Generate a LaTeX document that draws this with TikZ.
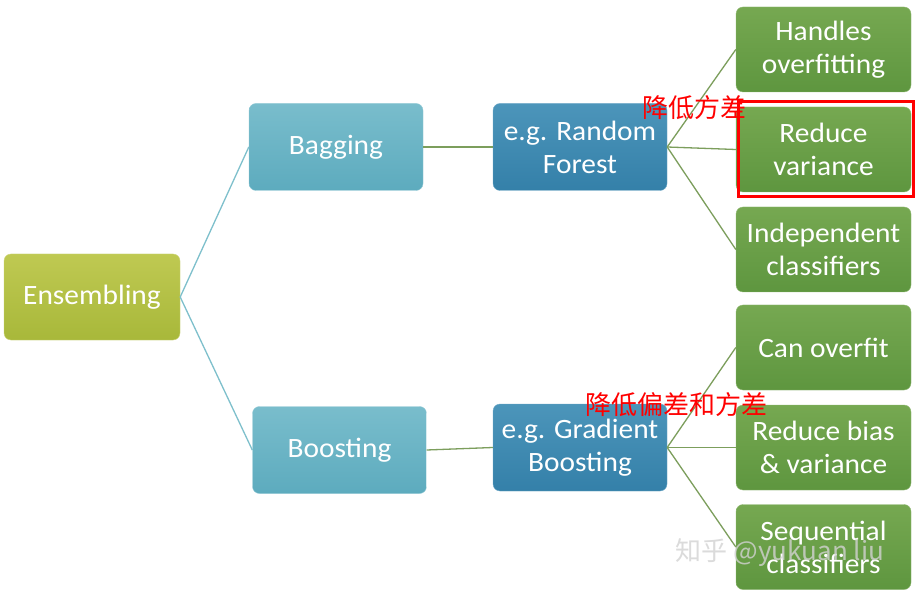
\documentclass[tikz,border=0pt]{standalone}
\usepackage{fontspec}
\setmainfont{Carlito}[FakeStretch=1.05]
\newfontfamily\cjk{Noto Sans CJK SC}
\definecolor{ensT}{HTML}{BFC952}
\definecolor{ensB}{HTML}{A8B83A}
\definecolor{bagT}{HTML}{79BDCC}
\definecolor{bagB}{HTML}{5DABBE}
\definecolor{rfT}{HTML}{4C95BA}
\definecolor{rfB}{HTML}{3480A9}
\definecolor{grT}{HTML}{76A851}
\definecolor{grB}{HTML}{5E963F}
\definecolor{lnBlue}{HTML}{7EC0CC}
\definecolor{lnGreen}{HTML}{7C9E5C}
\begin{document}
\begin{tikzpicture}[x=1pt,y=1pt,
  boxbase/.style={rectangle,rounded corners=7pt,inner sep=0pt,align=center,
    text=white,font=\fontsize{28}{33}\selectfont},
  ensbox/.style={boxbase,top color=ensT,bottom color=ensB,draw=ensT!80!white,
    minimum width=176pt,minimum height=86pt},
  bagbox/.style={boxbase,top color=bagT,bottom color=bagB,draw=bagT!80!white,
    minimum width=174pt,minimum height=87pt},
  rfbox/.style={boxbase,top color=rfT,bottom color=rfB,draw=rfT!80!white,
    minimum width=174pt,minimum height=87pt},
  grbox/.style={boxbase,top color=grT,bottom color=grB,draw=grT!80!white,
    minimum width=175pt,minimum height=85pt},
  blueline/.style={draw=lnBlue,line width=1.3pt},
  greenline/.style={draw=lnGreen,line width=1.3pt},
  redlabel/.style={text=red,font=\cjk\fontsize{26}{30}\selectfont,inner sep=0pt}
]
\useasboundingbox (0,0) rectangle (915,595);
\fill[white] (0,0) rectangle (915,595);

\node[ensbox] (ens) at (92,298) {Ensembling};
\node[bagbox] (bag) at (336,448) {Bagging};
\node[bagbox] (boo) at (339.5,145) {Boosting};
\node[rfbox] (rf) at (580,448) {e.g. Random\\Forest};
\node[rfbox] (gb) at (580,147.5) {e.g. Gradient\\Boosting};

\node[grbox] (g1) at (823.5,545.5) {Handles\\overfitting};
\node[grbox] (g2) at (823.5,445.5) {Reduce\\variance};
\node[grbox] (g3) at (823.5,345.5) {Independent\\classifiers};
\node[grbox] (g4) at (823.5,247.5) {Can overfit};
\node[grbox] (g5) at (823.5,147.5) {Reduce bias\\\& variance};
\node[grbox] (g6) at (823.5,48) {Sequential\\classifiers};

\draw[blueline] (ens.east) -- (bag.west);
\draw[blueline] (ens.east) -- (boo.west);
\draw[greenline] (bag.east) -- (rf.west);
\draw[greenline] (boo.east) -- (gb.west);
\foreach \g in {g1,g2,g3} \draw[greenline] (rf.east) -- (\g.west);
\foreach \g in {g4,g5,g6} \draw[greenline] (gb.east) -- (\g.west);

\node[draw=red,line width=3pt,minimum width=175pt,minimum height=95pt,inner sep=0pt] (hl) at (825.5,445.5) {};

\node[redlabel] (r1) at (694,487) {降低方差};
\node[redlabel] (r2) at (676,190) {降低偏差和方差};

\node[text=gray!35,opacity=0.8,font=\cjk\fontsize{26}{30}\selectfont,inner sep=0pt] (wm) at (780,42) {知乎 @yukuan liu};
\end{tikzpicture}
\end{document}
